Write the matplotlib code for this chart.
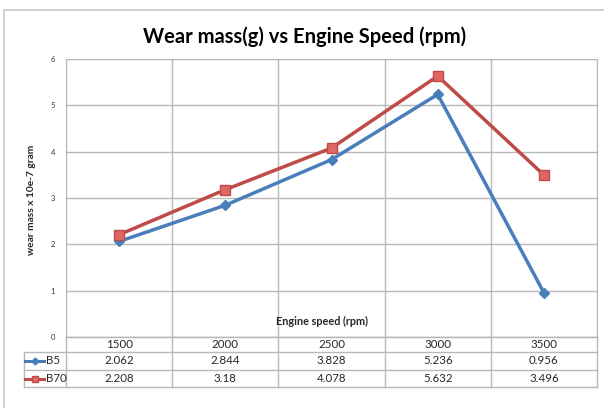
import matplotlib.pyplot as plt
from matplotlib.patches import Rectangle
import numpy as np

plt.rcParams['font.family'] = ['Lato', 'DejaVu Sans']

# data
speeds = ['1500', '2000', '2500', '3000', '3500']
b5 = [2.062, 2.844, 3.828, 5.236, 0.956]
b70 = [2.208, 3.18, 4.078, 5.632, 3.496]
b5_labels = ['2.062', '2.844', '3.828', '5.236', '0.956']
b70_labels = ['2.208', '3.18', '4.078', '5.632', '3.496']

blue = '#4a7ebb'
red = '#be4b48'
grid_c = '#b8b8b8'
txt_c = '#262626'

W, H = 604, 408
fig = plt.figure(figsize=(W / 100, H / 100), dpi=100)

# outer chart border
fig.patches.append(Rectangle((4 / W, -0.1), 1.1, (H - 10) / H + 0.1, transform=fig.transFigure,
                             fill=False, edgecolor='#c8c8c8', lw=1.2))

# main plot area
ax = fig.add_axes([66 / W, (H - 337) / H, 531 / W, 278 / H])
x = np.arange(len(speeds))
ax.plot(x, b5, color=blue, lw=2.5, marker='D', ms=5, mfc=blue, mec=blue, zorder=3)
ax.plot(x, b70, color=red, lw=2.5, marker='s', ms=7, mfc='#e06666', mec=red, zorder=4)
ax.set_xlim(-0.5, len(speeds) - 0.5)
ax.set_ylim(0, 6)
ax.set_yticks(range(7))
ax.set_xticks(np.arange(len(speeds) + 1) - 0.5)
ax.set_xticklabels([])
ax.grid(True, color=grid_c, lw=1)
ax.tick_params(length=0, labelsize=5.5, pad=8, labelcolor='#333333')
for s in ax.spines.values():
    s.set_color(grid_c)

fig.text(305 / W, 1 - 37 / H, 'Wear mass(g) vs Engine Speed (rpm)', ha='center', va='center',
         fontsize=14.5, fontweight='bold')
fig.text(31 / W, 1 - 200 / H, 'wear mass x 10e-7 gram', rotation=90, ha='center', va='center',
         fontsize=7.3, fontweight='bold', color=txt_c)
fig.text(322 / W, 1 - 321 / H, 'Engine speed (rpm)', ha='center', va='center',
         fontsize=7.8, fontweight='bold', color=txt_c)

# data table below
lead = 42 / 106.2
tab = fig.add_axes([24 / W, (H - 387) / H, 573 / W, 50 / H])
tab.set_xlim(-0.5 - lead, len(speeds) - 0.5)
row_edges = [0, 15, 33, 50]
tab.set_ylim(50, 0)
tab.axis('off')
lc = dict(color=grid_c, lw=1, clip_on=False)
tab.plot([-0.5, len(speeds) - 0.5], [0, 0], **lc)
for r in row_edges[1:]:
    tab.plot([-0.5 - lead, len(speeds) - 0.5], [r, r], **lc)
for c in np.arange(len(speeds) + 1) - 0.5:
    tab.plot([c, c], [0, 50], **lc)
tab.plot([-0.5 - lead] * 2, [15, 50], **lc)
mids = [(row_edges[i] + row_edges[i + 1]) / 2 for i in range(3)]
fs = 8.3
for i, sp in enumerate(speeds):
    tab.text(i, mids[0], sp, ha='center', va='center', fontsize=fs, color=txt_c)
    tab.text(i, mids[1], b5_labels[i], ha='center', va='center', fontsize=fs, color=txt_c)
    tab.text(i, mids[2], b70_labels[i], ha='center', va='center', fontsize=fs, color=txt_c)

# legend keys in table
kx = -0.5 - lead
tab.plot([kx + 0.01, kx + 0.19], [mids[1]] * 2, color=blue, lw=2.2, clip_on=False)
tab.plot([kx + 0.10], [mids[1]], marker='D', ms=3.5, color=blue, clip_on=False)
tab.text(kx + 0.21, mids[1], 'B5', ha='left', va='center', fontsize=fs, color=txt_c)
tab.plot([kx + 0.01, kx + 0.19], [mids[2]] * 2, color=red, lw=2.2, clip_on=False)
tab.plot([kx + 0.10], [mids[2]], marker='s', ms=5, mfc='#e06666', mec=red, clip_on=False)
tab.text(kx + 0.21, mids[2], 'B70', ha='left', va='center', fontsize=fs, color=txt_c)

fig.savefig('out.png', dpi=100)
